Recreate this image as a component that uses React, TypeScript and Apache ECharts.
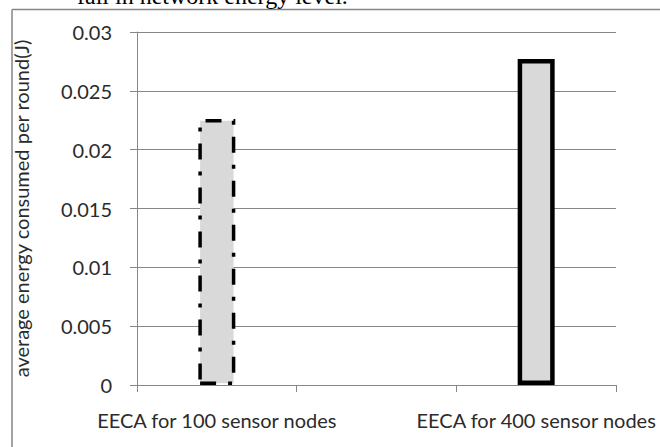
import React, { useEffect, useRef } from "react";
import * as echarts from "echarts";

const categories = ["EECA for 100 sensor nodes", "", "EECA for 400 sensor nodes"];
const energyValues: (number | null)[] = [0.0226, null, 0.0277];
const yTicks = { min: 0, max: 0.03, interval: 0.005 };
const yAxisTitle = "average energy consumed per round(J)";
const captionAbove = "fall in network energy level.";

export default function App() {
  const ref = useRef<HTMLDivElement>(null);
  useEffect(() => {
    if (!ref.current) return;
    const chart = echarts.init(ref.current, undefined, { renderer: "svg" });
    const borderStyles = [
      { borderType: [16, 12, 4, 12], borderWidth: 3.5 },
      { borderType: "solid", borderWidth: 0 },
      { borderType: "solid", borderWidth: 4.5 },
    ];
    const data = energyValues.map((v, i) =>
      v == null
        ? "-"
        : {
            value: v,
            itemStyle: {
              color: "#d9d9d9",
              borderColor: "#000",
              borderType: borderStyles[i].borderType as any,
              borderWidth: borderStyles[i].borderWidth,
            },
          }
    );
    chart.setOption({
      animation: false,
      backgroundColor: "#fff",
      textStyle: { fontFamily: "Lato" },
      grid: { left: 137, right: 44, top: 32, bottom: 62, containLabel: false },
      graphic: [
        {
          type: "line",
          shape: { x1: 12, y1: 9.5, x2: 12, y2: 460 },
          style: { stroke: "#868686", lineWidth: 1.5 },
        },
        {
          type: "line",
          shape: { x1: 12, y1: 9.5, x2: 670, y2: 9.5 },
          style: { stroke: "#868686", lineWidth: 1.5 },
        },
        {
          type: "text",
          x: 77,
          y: 8,
          style: {
            text: captionAbove,
            fontFamily: "Liberation Serif",
            fontSize: 24,
            fill: "#000",
            textVerticalAlign: "bottom",
          },
        },
      ],
      xAxis: {
        type: "category",
        data: categories,
        boundaryGap: true,
        axisLine: { show: true, lineStyle: { color: "#868686", width: 1 } },
        axisTick: { show: true, length: 7, interval: 0, lineStyle: { color: "#868686" } },
        axisLabel: { interval: 0, color: "#2b2b2b", fontSize: 20, margin: 25, fontFamily: "Lato" },
        splitLine: { show: false },
      },
      yAxis: {
        type: "value",
        min: yTicks.min,
        max: yTicks.max,
        interval: yTicks.interval,
        name: yAxisTitle,
        nameLocation: "middle",
        nameRotate: 90,
        nameGap: 106,
        nameTextStyle: { color: "#2b2b2b", fontSize: 20, fontFamily: "Lato" },
        axisLine: { show: true, lineStyle: { color: "#868686", width: 1 } },
        axisTick: { show: true, length: 7, lineStyle: { color: "#868686" } },
        axisLabel: {
          color: "#2b2b2b",
          fontSize: 20,
          margin: 25,
          fontFamily: "Lato",
          formatter: (v: number) => String(+v.toFixed(3)),
        },
        splitLine: { show: true, lineStyle: { color: "#868686", width: 1 } },
      },
      series: [
        {
          type: "bar",
          data,
          barWidth: 37,
        },
      ],
    });
    return () => chart.dispose();
  }, []);
  return (
    <div
      ref={ref}
      style={{ position: "fixed", left: 0, top: 0, width: 660, height: 447 }}
    />
  );
}
